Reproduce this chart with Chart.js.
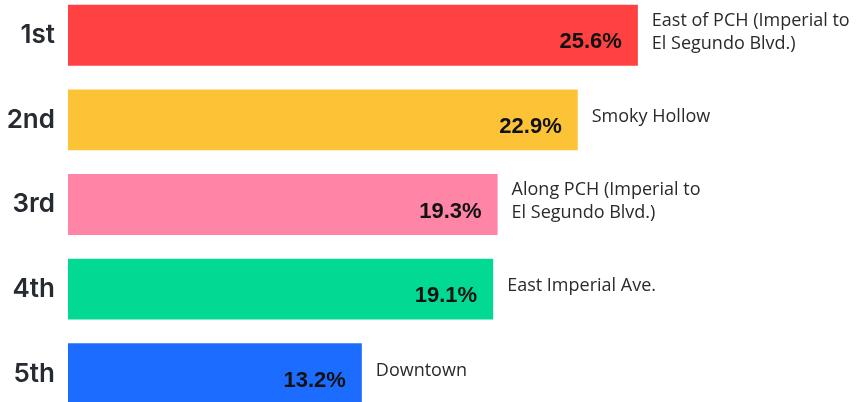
<!DOCTYPE html>
<html>
<head>
<meta charset="utf-8">
<script src="https://cdn.jsdelivr.net/npm/chart.js@4.4.0/dist/chart.umd.min.js"></script>
<style>
  html, body { margin: 0; padding: 0; background: #fff; overflow: hidden; }
  #wrap { position: absolute; left: 0; top: -7px; width: 856px; height: 423px; }
</style>
</head>
<body>
<div id="wrap"><canvas id="rank-chart" width="856" height="423"></canvas></div>
<script>
// ranking of areas
const ranks = ['1st', '2nd', '3rd', '4th', '5th'];
const shares = [25.6, 22.9, 19.3, 19.1, 13.2];
const areaNames = [
    ['East of PCH (Imperial to', 'El Segundo Blvd.)'],
    ['Smoky Hollow'],
    ['Along PCH (Imperial to', 'El Segundo Blvd.)'],
    ['East Imperial Ave.'],
    ['Downtown']
];
const barColors = ['#ff4141', '#fdc336', '#ff85a7', '#02d993', '#1c6cff'];

// draws the % inside each bar and the area name beside it
const barLabels = {
    id: 'barLabels',
    afterDatasetsDraw(chart) {
        const ctx = chart.ctx;
        const bars = chart.getDatasetMeta(0).data;
        ctx.save();
        bars.forEach((bar, i) => {
            ctx.fillStyle = '#111';
            ctx.font = 'bold 22px "Liberation Sans", Arial, sans-serif';
            ctx.textAlign = 'right';
            ctx.textBaseline = 'middle';
            ctx.fillText(shares[i].toFixed(1) + '%', bar.x - 16, bar.y + 7);

            ctx.fillStyle = '#2a2a2a';
            ctx.font = '18px "Open Sans", sans-serif';
            ctx.textAlign = 'left';
            const lines = areaNames[i];
            const lh = 23;
            const y0 = bar.y - (lines.length - 1) * lh / 2 - 3;
            lines.forEach((ln, j) => ctx.fillText(ln, bar.x + 14, y0 + j * lh));
        });
        ctx.restore();
    }
};

new Chart(document.getElementById('rank-chart'), {
    type: 'bar',
    data: {
        labels: ranks,
        datasets: [{
            data: shares,
            backgroundColor: barColors,
            borderWidth: 0,
            barPercentage: 0.72,
            categoryPercentage: 1
        }]
    },
    options: {
        indexAxis: 'y',
        responsive: false,
        animation: false,
        layout: { padding: 0 },
        plugins: { legend: { display: false }, tooltip: { enabled: false } },
        scales: {
            x: { display: false, min: 0, max: 35.4 },
            y: {
                grid: { display: false },
                border: { display: false },
                ticks: {
                    color: '#262a31',
                    padding: 5,
                    font: { family: 'Inter', size: 26, weight: '600' }
                },
                afterFit(scale) {
                    scale.width = 68;
                    scale.paddingTop = 0;
                    scale.paddingBottom = 0;
                }
            }
        }
    },
    plugins: [barLabels]
});
</script>
</body>
</html>
